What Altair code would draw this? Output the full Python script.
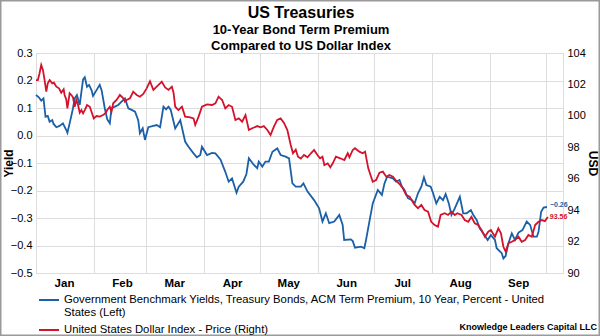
import altair as alt
import pandas as pd

# ---- data (days since 2017-01-01) ----
blue_days = [0, 1.5, 2.8, 4.0, 5.1, 6.3, 7.3, 8.7, 9.4, 10.9,
             12.6, 14.4, 16.2, 16.8, 18.0, 19.8, 20.7, 21.9, 23.4, 24.3,
             25.2, 26.1, 27.3, 28.4, 29.7, 30.5, 32.4, 34.1, 35.1, 36.8,
             38.1, 39.5, 40.4, 42.2, 44.0, 45.8, 47.6, 49.4, 51.2, 53.0,
             54.7, 55.6, 57.1, 58.3, 60.1, 62.8, 64.6, 66.4, 68.2, 69.6,
             70.9, 72.1, 74.5, 77.2, 79.8, 81.6, 84.3, 86.1, 87.9, 88.8,
             91.5, 94.2, 96.0, 98.7, 101.3, 103.1, 104.9, 107.3, 108.5, 110.9,
             112.6, 113.9, 116.6, 118.4, 119.2, 121.1, 122.8, 124.6, 126.5, 129.1,
             130.9, 133.6, 135.4, 137.2, 139.0, 141.7, 143.1, 145.3, 148.8, 151.5,
             153.3, 155.1, 156.9, 159.6, 162.3, 164.1, 164.9, 168.5, 169.5, 170.7,
             173.9, 175.7, 176.6, 178.4, 180.2, 182.9, 185.1, 186.5, 187.9, 191.0,
             192.7, 194.5, 195.8, 197.2, 199.0, 201.2, 202.6, 204.4, 206.2, 207.6,
             208.9, 211.2, 212.5, 214.2, 216.0, 217.8, 219.2, 220.9, 222.3, 224.1,
             226.8, 228.6, 230.4, 232.7, 234.0, 235.8, 237.5, 239.4, 241.7, 243.4,
             245.6, 246.5, 249.2, 250.1, 251.3, 252.8, 254.6, 256.3, 258.2, 260.3,
             262.6, 264.4, 266.2, 268.0, 268.9, 270.3, 271.6, 273.4]
blue_vals = [0.147, 0.139, 0.127, 0.135, 0.068, 0.071, 0.050, 0.056, 0.042, 0.030,
             0.035, 0.044, 0.020, 0.010, 0.044, 0.099, 0.135, 0.147, 0.111, 0.159,
             0.204, 0.212, 0.177, 0.184, 0.165, 0.144, 0.165, 0.184, 0.165, 0.099,
             0.059, 0.044, 0.099, 0.105, 0.111, 0.123, 0.135, 0.099, 0.093, 0.087,
             0.056, 0.008, 0.026, -0.016, 0.030, 0.035, 0.038, 0.030, 0.105, 0.095,
             0.105, 0.093, 0.026, 0.056, -0.022, -0.041, -0.065, -0.079, -0.071, -0.041,
             -0.071, -0.063, -0.065, -0.087, -0.132, -0.168, -0.156, -0.208, -0.186, -0.168,
             -0.140, -0.083, -0.107, -0.119, -0.095, -0.113, -0.095, -0.095, -0.059, -0.047,
             -0.071, -0.077, -0.083, -0.174, -0.186, -0.186, -0.174, -0.204, -0.235, -0.265,
             -0.313, -0.283, -0.319, -0.313, -0.289, -0.325, -0.380, -0.378, -0.384, -0.408,
             -0.404, -0.410, -0.380, -0.313, -0.247, -0.198, -0.216, -0.174, -0.150, -0.156,
             -0.168, -0.162, -0.186, -0.198, -0.228, -0.235, -0.247, -0.210, -0.186, -0.152,
             -0.180, -0.186, -0.210, -0.247, -0.223, -0.235, -0.213, -0.247, -0.289, -0.265,
             -0.223, -0.283, -0.283, -0.271, -0.289, -0.307, -0.338, -0.356, -0.380, -0.362,
             -0.380, -0.410, -0.428, -0.447, -0.438, -0.392, -0.356, -0.380, -0.353, -0.344,
             -0.313, -0.325, -0.368, -0.368, -0.350, -0.277, -0.262, -0.260]

red_days = [0, 1.0, 1.9, 2.8, 3.7, 4.6, 5.5, 6.3, 7.3, 8.7,
            9.6, 10.9, 12.3, 13.5, 14.8, 15.3, 16.2, 16.8, 18.0, 18.9,
            19.8, 20.7, 21.6, 22.5, 23.4, 24.3, 25.2, 26.1, 27.3, 28.8,
            29.7, 30.9, 32.4, 34.1, 35.9, 37.4, 38.1, 39.5, 40.4, 41.3,
            43.1, 44.9, 46.7, 47.6, 48.5, 50.3, 52.0, 53.9, 55.6, 57.4,
            59.2, 61.0, 62.8, 64.6, 66.4, 67.3, 69.1, 70.9, 72.7, 73.6,
            74.5, 76.2, 78.1, 79.8, 82.5, 84.3, 85.2, 87.0, 88.8, 91.5,
            94.2, 96.0, 97.7, 99.6, 101.3, 103.1, 104.9, 106.7, 108.5, 110.3,
            112.1, 113.9, 115.7, 118.4, 120.2, 121.9, 123.8, 125.5, 127.3, 129.1,
            130.9, 132.7, 134.5, 136.3, 137.5, 139.0, 140.2, 141.7, 143.4, 145.3,
            147.1, 148.8, 150.6, 152.0, 153.3, 154.3, 156.1, 157.5, 158.8, 160.5,
            162.8, 165.0, 166.8, 167.7, 169.5, 170.7, 173.0, 174.8, 176.1, 177.8,
            179.3, 180.2, 182.0, 183.8, 185.6, 187.4, 189.1, 191.0, 192.7, 194.5,
            196.3, 198.1, 199.9, 202.6, 204.4, 206.2, 207.9, 209.8, 211.5, 213.3,
            215.1, 216.5, 218.7, 220.5, 222.3, 224.1, 225.5, 227.7, 229.4, 231.3,
            233.0, 234.8, 236.6, 238.4, 240.2, 242.0, 243.4, 245.6, 247.4, 248.8,
            250.1, 251.3, 252.8, 254.6, 256.3, 258.2, 259.9, 261.7, 263.5, 265.3,
            267.1, 268.9, 270.7, 272.3, 273.9]
red_vals = [102.28, 102.28, 102.71, 103.24, 102.92, 102.28, 101.54, 102.07, 102.28, 102.07,
            102.11, 101.86, 101.75, 101.47, 101.69, 101.33, 101.05, 100.48, 101.44, 101.33,
            101.18, 100.58, 101.01, 100.69, 100.20, 100.37, 100.16, 100.37, 100.69, 100.58,
            100.26, 99.84, 99.99, 99.95, 100.05, 100.20, 100.37, 100.58, 100.26, 100.80,
            101.01, 101.33, 101.12, 100.90, 101.01, 101.12, 101.54, 101.33, 101.22, 101.39,
            101.75, 102.20, 101.65, 101.86, 102.07, 102.17, 101.81, 101.65, 101.86, 101.47,
            100.58, 100.37, 100.58, 99.95, 99.91, 99.84, 99.42, 99.95, 100.58, 100.73,
            100.69, 100.80, 101.22, 101.01, 100.48, 100.69, 100.58, 99.74, 99.84, 99.63,
            100.05, 99.10, 99.21, 99.35, 99.27, 99.35, 99.10, 98.78, 99.31, 99.74,
            99.84, 99.55, 99.10, 98.15, 97.62, 97.85, 97.40, 97.28, 97.51, 97.36,
            97.62, 97.83, 97.51, 97.30, 97.40, 96.87, 96.98, 96.72, 96.98, 97.40,
            97.30, 97.19, 97.62, 97.36, 97.83, 97.94, 97.72, 97.62, 97.72, 96.66,
            96.13, 95.81, 95.92, 96.38, 96.45, 96.13, 96.24, 96.13, 95.87, 95.66,
            95.39, 94.96, 94.86, 94.33, 94.12, 94.33, 94.01, 93.90, 93.26, 93.05,
            92.95, 93.69, 93.80, 93.69, 93.90, 93.69, 93.80, 93.69, 93.37, 93.26,
            93.58, 93.16, 93.05, 92.74, 92.31, 92.63, 92.74, 92.31, 92.84, 92.53,
            91.67, 91.36, 91.89, 91.99, 92.10, 92.31, 91.99, 92.10, 92.42, 92.31,
            93.05, 93.26, 93.37, 93.30, 93.56]

series_names = ["A", "B"]
blue_label = ["Government Benchmark Yields, Treasury Bonds, ACM Term Premium, 10 Year, Percent - United",
              "States  (Left)"]
red_label = "United States Dollar Index - Price  (Right)"
left_ticks = [-0.5, -0.4, -0.3, -0.2, -0.1, 0.0, 0.1, 0.2, 0.3]
right_ticks = [90, 92, 94, 96, 98, 100, 102, 104]
title_text = "US Treasuries"
subtitle_lines = ["10-Year Bond Term Premium", "Compared to US Dollar Index"]
source_text = "Knowledge Leaders Capital LLC"

BLUE = "#1a5fa8"
RED = "#d3122c"
FONT = "Liberation Sans"

start = pd.Timestamp("2017-01-01")
blue_df = pd.DataFrame({"date": start + pd.to_timedelta(blue_days, unit="D"),
                        "term": blue_vals, "series": series_names[0]})
red_df = pd.DataFrame({"date": start + pd.to_timedelta(red_days, unit="D"),
                       "usd": red_vals, "series": series_names[1]})

month_starts = [alt.DateTime(year=2017, month=m, date=1) for m in range(1, 11)]
xenc = alt.X("date:T",
             scale=alt.Scale(domain=[alt.DateTime(year=2017, month=1, date=1),
                                     alt.DateTime(year=2017, month=10, date=10)]),
             axis=alt.Axis(values=month_starts, title=None, grid=True, ticks=False, domain=False,
                           labelExpr="month(datum.value) == 9 ? '' : timeFormat(datum.value, '%b')",
                           labelOffset=28, labelFlush=False, labelFontWeight="bold",
                           labelFontSize=11.5, labelPadding=4, labelOverlap=False))

yL = alt.Y("term:Q", scale=alt.Scale(domain=[-0.5, 0.3], nice=False, zero=False),
           axis=alt.Axis(values=left_ticks, format=".1f", title="Yield", orient="left",
                         grid=True, ticks=False, domain=False, labelFontSize=11,
                         labelPadding=4, titleFontWeight="bold", titleFontSize=12,
                         titleX=-28, titleY=110, titleAngle=270, titleAlign="center",
                         titleBaseline="middle"))
yR = alt.Y("usd:Q", scale=alt.Scale(domain=[90, 104], nice=False, zero=False),
           axis=alt.Axis(values=right_ticks, title="USD", orient="right",
                         grid=False, ticks=False, domain=False, labelFontSize=11,
                         labelPadding=4, titleFontWeight="bold", titleFontSize=12,
                         titleX=29, titleY=110, titleAngle=90, titleAlign="center",
                         titleBaseline="middle"))

label_expr = ("datum.value == 'A' ? ['" + blue_label[0] + "', '" + blue_label[1] + "'] : '"
              + red_label + "'")
color = alt.Color("series:N",
                  scale=alt.Scale(domain=series_names, range=[BLUE, RED]),
                  legend=alt.Legend(title=None, orient="none", legendX=2, legendY=236,
                                    symbolType="stroke", symbolSize=400, symbolStrokeWidth=2,
                                    labelFontSize=11.3, labelFont=FONT, labelLimit=700,
                                    labelExpr=label_expr, rowPadding=-7))

blue_line = alt.Chart(blue_df).mark_line(strokeWidth=1.8).encode(x=xenc, y=yL, color=color)
blue_end = alt.Chart(blue_df.tail(1)).mark_text(
    align="left", dx=3, dy=-2, fontSize=7, fontWeight="bold", color=BLUE, font=FONT
).encode(x=xenc, y=yL, text=alt.Text("term:Q", format=".2f"))

red_line = alt.Chart(red_df).mark_line(strokeWidth=1.8).encode(x=xenc, y=yR, color=color)
red_end = alt.Chart(red_df.tail(1)).mark_text(
    align="left", dx=2, dy=0, fontSize=7, fontWeight="bold", color=RED, font=FONT
).encode(x=xenc, y=yR, text=alt.Text("usd:Q", format=".2f"))

deco = pd.DataFrame({"k": [0]})
frame = alt.Chart(deco).mark_rect(filled=False, stroke="#9a9a9a", strokeWidth=1.5).encode(
    x=alt.value(-35.25), x2=alt.value(563.25), y=alt.value(-52.25), y2=alt.value(282.25))
source = alt.Chart(deco).mark_text(
    text=source_text, align="right", fontSize=9, fontWeight="bold", font=FONT
).encode(x=alt.value(561), y=alt.value(274))
title_mark = alt.Chart(deco).mark_text(
    text=title_text, align="center", baseline="middle", fontSize=16, fontWeight="bold",
    font=FONT, color="black"
).encode(x=alt.value(265), y=alt.value(-40))
sub1 = alt.Chart(deco).mark_text(
    text=subtitle_lines[0], align="center", baseline="middle", fontSize=13, fontWeight="bold",
    font=FONT, color="black"
).encode(x=alt.value(265), y=alt.value(-23))
sub2 = alt.Chart(deco).mark_text(
    text=subtitle_lines[1], align="center", baseline="middle", fontSize=13, fontWeight="bold",
    font=FONT, color="black"
).encode(x=alt.value(265), y=alt.value(-7))

left = alt.layer(blue_line, blue_end)
right = alt.layer(red_line, red_end)

chart = alt.layer(left, right, frame, source, title_mark, sub1, sub2).resolve_scale(
    y="independent"
).properties(
    width=527, height=220,
    autosize=alt.AutoSizeParams(type="none"),
    padding={"left": 36, "top": 53, "right": 37, "bottom": 63},
).configure_view(stroke=None).configure_axis(
    labelFont=FONT, titleFont=FONT, labelColor="black", titleColor="black",
    gridColor="#c4c4c4", gridWidth=1
).configure(background="white")

chart.save("out.html", embed_options={"renderer": "svg", "actions": False})
